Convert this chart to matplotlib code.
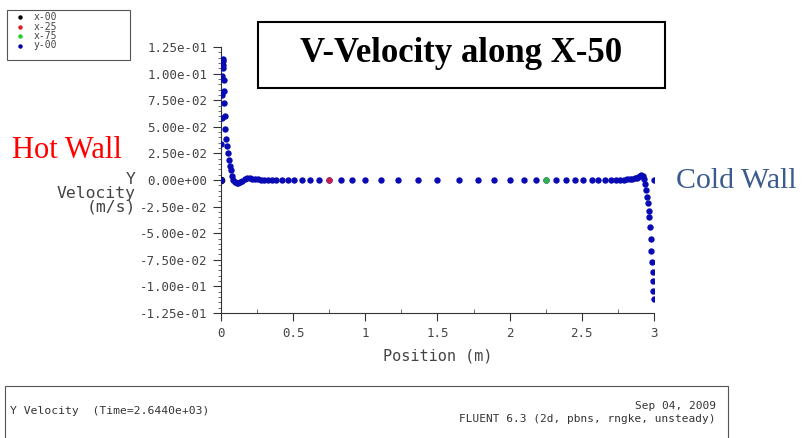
import matplotlib.pyplot as plt
from matplotlib.patches import Rectangle
from matplotlib.ticker import MultipleLocator

# y-00 series: position (m) and Y velocity (m/s)
position = [0.000, 0.003, 0.005, 0.007, 0.009, 0.011, 0.013, 0.015, 0.017, 0.019,
            0.021, 0.023, 0.025, 0.028, 0.035, 0.044, 0.051, 0.056, 0.062, 0.067,
            0.074, 0.085, 0.097, 0.109, 0.121, 0.132, 0.148, 0.166, 0.183, 0.200,
            0.218, 0.237, 0.257, 0.278, 0.300, 0.323, 0.350, 0.381, 0.420, 0.466,
            0.506, 0.559, 0.617, 0.681, 0.750, 0.829, 0.905, 1.000, 1.109, 1.226,
            1.363, 1.500, 1.649, 1.779, 1.894, 2.003, 2.102, 2.183, 2.252, 2.322,
            2.391, 2.453, 2.511, 2.569, 2.615, 2.661, 2.700, 2.735, 2.765, 2.790,
            2.812, 2.832, 2.850, 2.866, 2.880, 2.892, 2.903, 2.913, 2.922, 2.930,
            2.937, 2.944, 2.950, 2.956, 2.962, 2.967, 2.972, 2.977, 2.982, 2.986,
            2.990, 2.993, 2.996, 2.998, 3.000]
velocity = [0.0, 0.034, 0.058, 0.080, 0.098, 0.108, 0.114, 0.112, 0.105, 0.094,
            0.084, 0.072, 0.060, 0.048, 0.039, 0.032, 0.025, 0.019, 0.013, 0.009,
            0.004, 0.0, -0.002, -0.003, -0.003, -0.002, -0.0005, 0.001, 0.0015, 0.0015,
            0.001, 0.0008, 0.0005, 0.0003, 0.0002, 0.0001, 0.0, 0.0, 0.0, 0.0,
            0.0, 0.0, 0.0, 0.0, 0.0, 0.0, 0.0, 0.0, 0.0, 0.0,
            0.0, 0.0, 0.0, 0.0, 0.0, 0.0, 0.0, 0.0, 0.0, 0.0,
            0.0, 0.0, 0.0, 0.0, 0.0, 0.0, 0.0001, 0.0002, 0.0003, 0.0004,
            0.0006, 0.0008, 0.001, 0.0015, 0.002, 0.003, 0.004, 0.005, 0.004, 0.001,
            -0.004, -0.009, -0.016, -0.022, -0.029, -0.035, -0.044, -0.055, -0.067, -0.077,
            -0.086, -0.095, -0.104, -0.112, 0.0]

# other lines only cross y-00 at single points
x25_pos, x25_vel = [0.75], [0.0]
x75_pos, x75_vel = [2.25], [0.0]
x00_pos, x00_vel = [0.0], [0.0]

legend_names = ['x-00', 'x-25', 'x-75', 'y-00']
legend_colors = ['black', '#e02020', '#20d020', '#0000b0']

x_ticks = [0, 0.5, 1, 1.5, 2, 2.5, 3]
x_tick_labels = ['0', '0.5', '1', '1.5', '2', '2.5', '3']
y_ticks = [0.125, 0.1, 0.075, 0.05, 0.025, 0.0, -0.025, -0.05, -0.075, -0.1, -0.125]

W, H = 803, 438
fig = plt.figure(figsize=(W / 100, H / 100), dpi=100)
mono = 'DejaVu Sans Mono'
grey = '#444444'

ax = fig.add_axes([221 / W, 1 - 313 / H, 433 / W, 266 / H])
ax.plot(x00_pos, x00_vel, 'o', color='black', ms=4.5, zorder=2)
ax.plot(position, velocity, 'o', color='#0a0ab4', ms=4.6, mec='none', zorder=3)
ax.plot(x25_pos, x25_vel, 'o', color='#c02050', ms=4.6, mec='none', zorder=4)
ax.plot(x75_pos, x75_vel, 'o', color='#30b050', ms=4.6, mec='none', zorder=4)

ax.set_xlim(0, 3)
ax.set_ylim(-0.125, 0.125)
for s in ['top', 'right']:
    ax.spines[s].set_visible(False)
for s in ['left', 'bottom']:
    ax.spines[s].set_color('#333333')
    ax.spines[s].set_linewidth(0.8)

ax.set_xticks(x_ticks)
ax.set_xticklabels(x_tick_labels, family=mono, fontsize=9, color=grey)
ax.set_yticks(y_ticks)
ax.set_yticklabels([f'{v:.2e}' for v in y_ticks], family=mono, fontsize=9, color=grey)
ax.xaxis.set_minor_locator(MultipleLocator(0.25))
ax.yaxis.set_minor_locator(MultipleLocator(0.005))
ax.tick_params(which='major', direction='out', length=6, width=0.8, color='#333333', pad=4)
ax.tick_params(which='minor', direction='out', length=2.5, width=0.6, color='#555555')
ax.tick_params(axis='x', which='minor', direction='in', length=3)

ax.set_xlabel('Position (m)', family=mono, fontsize=11, color=grey, labelpad=6)
fig.text(136 / W, 1 - 193 / H, 'Y\nVelocity\n(m/s)', family=mono, fontsize=11.8,
         color=grey, ha='right', va='center', linespacing=0.9)

# title box
fig.patches.append(Rectangle((258 / W, 1 - 88 / H), 407 / W, 66 / H, transform=fig.transFigure,
                             fill=False, edgecolor='black', linewidth=1.5))
fig.text(461 / W, 1 - 54 / H, 'V-Velocity along X-50', family='Liberation Serif',
         fontweight='bold', fontsize=25, ha='center', va='center')

fig.text(12 / W, 1 - 151 / H, 'Hot Wall', family='Liberation Serif', fontsize=22,
         color='red', ha='left', va='center')
fig.text(676 / W, 1 - 181 / H, 'Cold Wall', family='Liberation Serif', fontsize=21.5,
         color='#3a5a90', ha='left', va='center')

# legend box
fig.patches.append(Rectangle((7 / W, 1 - 60 / H), 123 / W, 50 / H, transform=fig.transFigure,
                             fill=False, edgecolor='#555555', linewidth=0.8))
for i, (name, c) in enumerate(zip(legend_names, legend_colors)):
    yy = 1 - (17 + i * 9.5) / H
    fig.lines.append(plt.Line2D([20 / W], [yy], marker='o', ms=3.2, color=c, mec='none',
                                transform=fig.transFigure))
    fig.text(34 / W, yy, name, family=mono, fontsize=7, color=grey, va='center')

# footer box
fig.patches.append(Rectangle((5 / W, -0.01), 723 / W, 1 - 386 / H + 0.01, transform=fig.transFigure,
                             fill=False, edgecolor='#555555', linewidth=0.8))
fig.text(10 / W, 1 - 411 / H, 'Y Velocity  (Time=2.6440e+03)', family=mono, fontsize=8.2,
         color='#333333', va='center')
fig.text(716 / W, 1 - 406 / H, 'Sep 04, 2009', family=mono, fontsize=8,
         color='#333333', va='center', ha='right')
fig.text(716 / W, 1 - 419 / H, 'FLUENT 6.3 (2d, pbns, rngke, unsteady)', family=mono,
         fontsize=8, color='#333333', va='center', ha='right')

fig.savefig('out.png', dpi=100)
